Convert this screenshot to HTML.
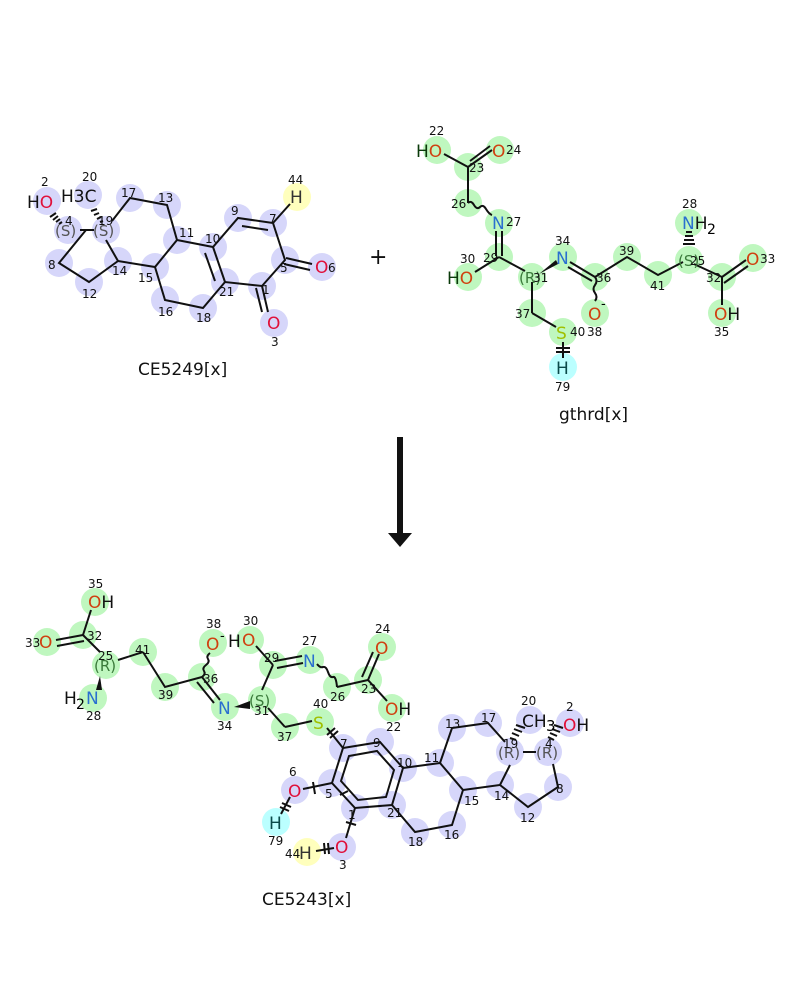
<!DOCTYPE html>
<html><head><meta charset="utf-8"><style>
body{margin:0;background:#fff}
svg{display:block}
text{font-family:"DejaVu Sans","Liberation Sans",sans-serif}
.n{font-size:12px;fill:#111}
.a{font-size:17px}
.b{fill:#d6d6fa}.g{fill:#bff7bf}
line,polyline,path{stroke:#111;stroke-width:2;fill:none}
</style></head><body>
<svg width="800" height="1000" viewBox="0 0 800 1000">
<!-- ===== Molecule 1 ===== -->
<g>
<circle class="b" cx="47" cy="201" r="14"/><circle class="b" cx="68" cy="230" r="14"/><circle class="b" cx="106" cy="230" r="14"/>
<circle class="b" cx="88" cy="195" r="14"/><circle class="b" cx="130" cy="198" r="14"/><circle class="b" cx="167" cy="205" r="14"/>
<circle class="b" cx="177" cy="240" r="14"/><circle class="b" cx="213" cy="247" r="14"/><circle class="b" cx="238" cy="218" r="14"/>
<circle class="b" cx="273" cy="223" r="14"/><circle fill="#ffffbd" cx="297" cy="197" r="14"/><circle class="b" cx="285" cy="260" r="14"/>
<circle class="b" cx="322" cy="267" r="14"/><circle class="b" cx="262" cy="286" r="14"/><circle class="b" cx="274" cy="323" r="14"/>
<circle class="b" cx="225" cy="282" r="14"/><circle class="b" cx="203" cy="308" r="14"/><circle class="b" cx="165" cy="300" r="14"/>
<circle class="b" cx="155" cy="267" r="14"/><circle class="b" cx="118" cy="261" r="14"/><circle class="b" cx="89" cy="282" r="14"/><circle class="b" cx="59" cy="263" r="14"/>
<polyline points="86,230 59,263 89,282 118,261 106,240"/>
<line x1="80" y1="230" x2="94" y2="230"/>
<polyline points="118,261 155,267 177,240 167,205 130,198 112,221"/>
<polyline points="155,267 165,300 203,308 225,282 262,286 285,260 273,223 238,218 213,247 177,240"/>
<line x1="213" y1="247" x2="225" y2="282"/><line x1="205" y1="253" x2="215" y2="281"/>
<line x1="242" y1="226" x2="268" y2="230"/>
<line x1="286" y1="258" x2="312" y2="264"/><line x1="284" y1="264" x2="310" y2="270"/>
<line x1="262" y1="286" x2="268" y2="312"/><line x1="256" y1="288" x2="262" y2="312"/>
<line x1="273" y1="223" x2="290" y2="204"/>
<path d="M62,222 l-3,2 M60,219 l-4,3 M58,216 l-5,4 M56,213 l-6,4" stroke-width="1.3"/>
<path d="M103,221 l-3,1 M101,217 l-4,2 M99,213 l-5,2 M97,209 l-6,2" stroke-width="1.3"/>
<text class="n" x="41" y="186">2</text><text class="a" x="27" y="208"><tspan fill="#111">H</tspan><tspan fill="#e0103a">O</tspan></text>
<text class="n" x="65" y="225">4</text><text x="55" y="236" font-size="15" fill="#555">(S)</text>
<text class="n" x="82" y="181">20</text><text class="a" x="61" y="202" fill="#111">H3C</text>
<text class="n" x="98" y="225">19</text><text x="93" y="236" font-size="15" fill="#555">(S)</text>
<text class="n" x="121" y="197">17</text><text class="n" x="158" y="202">13</text><text class="n" x="179" y="237">11</text>
<text class="n" x="205" y="243">10</text><text class="n" x="231" y="215">9</text><text class="n" x="269" y="223">7</text>
<text class="n" x="288" y="184">44</text><text class="a" x="290" y="203" fill="#333">H</text>
<text class="n" x="280" y="272">5</text><text class="a" x="315" y="273" fill="#e0103a">O</text><text class="n" x="328" y="272">6</text>
<text class="n" x="262" y="294">1</text><text class="a" x="267" y="329" fill="#e0103a">O</text><text class="n" x="271" y="346">3</text>
<text class="n" x="219" y="296">21</text><text class="n" x="196" y="322">18</text><text class="n" x="158" y="316">16</text>
<text class="n" x="138" y="282">15</text><text class="n" x="112" y="275">14</text><text class="n" x="82" y="298">12</text><text class="n" x="48" y="269">8</text>
<text x="138" y="375" font-size="17" fill="#111">CE5249[x]</text>
</g>
<text x="369" y="264" font-size="22" fill="#111">+</text>
<!-- ===== Molecule 2 ===== -->
<g>
<circle class="g" cx="437" cy="150" r="14"/><circle class="g" cx="468" cy="167" r="14"/><circle class="g" cx="500" cy="150" r="14"/>
<circle class="g" cx="468" cy="203" r="14"/><circle class="g" cx="499" cy="223" r="14"/><circle class="g" cx="499" cy="257" r="14"/>
<circle class="g" cx="468" cy="277" r="14"/><circle class="g" cx="532" cy="277" r="14"/><circle class="g" cx="532" cy="313" r="14"/>
<circle class="g" cx="563" cy="332" r="14"/><circle fill="#bff" cx="563" cy="367" r="14"/><circle class="g" cx="563" cy="257" r="14"/>
<circle class="g" cx="595" cy="277" r="14"/><circle class="g" cx="595" cy="313" r="14"/><circle class="g" cx="627" cy="257" r="14"/>
<circle class="g" cx="658" cy="275" r="14"/><circle class="g" cx="689" cy="260" r="14"/><circle class="g" cx="689" cy="223" r="14"/>
<circle class="g" cx="722" cy="277" r="14"/><circle class="g" cx="753" cy="258" r="14"/><circle class="g" cx="722" cy="313" r="14"/>
<line x1="444" y1="154" x2="468" y2="167"/><line x1="468" y1="167" x2="492" y2="150"/><line x1="470" y1="161" x2="490" y2="146"/>
<line x1="468" y1="167" x2="468" y2="203"/>
<path d="M468,203 q3,-3 6,2 t6,2 t6,2 t6,6" stroke-width="1.3"/>
<line x1="496" y1="231" x2="496" y2="256"/><line x1="502" y1="231" x2="502" y2="256"/>
<line x1="499" y1="257" x2="475" y2="272"/><line x1="499" y1="257" x2="525" y2="271"/>
<polygon points="539,274 556,260 558,264" fill="#111"/>
<line x1="532" y1="282" x2="532" y2="313"/><line x1="532" y1="313" x2="556" y2="327"/>
<line x1="570" y1="262" x2="595" y2="277"/><line x1="568" y1="267" x2="592" y2="281"/>
<path d="M595,277 q3,4 0,8 t0,8 t0,8" stroke-width="1.3"/>
<polyline points="595,277 627,257 658,275 683,262"/>
<line x1="694" y1="264" x2="722" y2="277"/><line x1="722" y1="277" x2="746" y2="260"/><line x1="724" y1="283" x2="748" y2="266"/>
<line x1="722" y1="277" x2="722" y2="305"/>
<path d="M683,244 h12 M684,240 h10 M685,236 h8 M686,232 h6" stroke-width="1.3"/>
<path d="M556,348 h14 M556,352 h14" stroke-width="1.5"/><line x1="563" y1="342" x2="563" y2="358"/>
<text class="n" x="429" y="135">22</text><text class="a" x="416" y="157"><tspan fill="#0a3a0a">H</tspan><tspan fill="#d04010">O</tspan></text>
<text class="n" x="469" y="172" fill="#1a5a1a">23</text><text class="a" x="492" y="157" fill="#d04010">O</text><text class="n" x="506" y="154">24</text>
<text class="n" x="451" y="208">26</text><text class="a" x="492" y="229" fill="#2a6fd0">N</text><text class="n" x="506" y="226">27</text>
<text class="n" x="483" y="262">29</text><text class="n" x="460" y="263">30</text><text class="a" x="447" y="284"><tspan fill="#0a3a0a">H</tspan><tspan fill="#d04010">O</tspan></text>
<text x="519" y="283" font-size="15" fill="#3a7a3a">(R)</text><text class="n" x="533" y="282">31</text>
<text class="n" x="515" y="318">37</text><text class="a" x="556" y="339" fill="#a0c000">S</text><text class="n" x="570" y="336">40</text>
<text class="a" x="556" y="374" fill="#0a4a4a">H</text><text class="n" x="555" y="391">79</text>
<text class="n" x="555" y="245">34</text><text class="a" x="556" y="264" fill="#2a6fd0">N</text>
<text class="n" x="596" y="282">36</text><text class="a" x="588" y="320" fill="#d04010">O</text><text x="601" y="308" font-size="13">-</text><text class="n" x="587" y="336">38</text>
<text class="n" x="619" y="255">39</text><text class="n" x="650" y="290">41</text>
<text x="678" y="266" font-size="15" fill="#3a7a3a">(S)</text><text class="n" x="690" y="265">25</text>
<text class="n" x="682" y="208">28</text><text class="a" x="682" y="229"><tspan fill="#2a6fd0">N</tspan><tspan fill="#111">H</tspan></text><text x="707" y="234" font-size="14">2</text>
<text class="n" x="706" y="282">32</text><text class="a" x="746" y="265" fill="#d04010">O</text><text class="n" x="760" y="263">33</text>
<text class="a" x="714" y="320"><tspan fill="#d04010">O</tspan><tspan fill="#111">H</tspan></text><text class="n" x="714" y="336">35</text>
<text x="559" y="420" font-size="17" fill="#111">gthrd[x]</text>
</g>
<!-- arrow -->
<rect x="397" y="437" width="6" height="97" fill="#111"/>
<polygon points="388,533 412,533 400,547" fill="#111"/>
<!-- ===== Molecule 3 ===== -->
<g>
<circle class="g" cx="95" cy="602" r="14"/><circle class="g" cx="83" cy="635" r="14"/><circle class="g" cx="47" cy="642" r="14"/>
<circle class="g" cx="106" cy="665" r="14"/><circle class="g" cx="93" cy="698" r="14"/><circle class="g" cx="143" cy="652" r="14"/>
<circle class="g" cx="165" cy="687" r="14"/><circle class="g" cx="202" cy="677" r="14"/><circle class="g" cx="213" cy="643" r="14"/>
<circle class="g" cx="225" cy="707" r="14"/><circle class="g" cx="262" cy="700" r="14"/><circle class="g" cx="273" cy="665" r="14"/>
<circle class="g" cx="250" cy="640" r="14"/><circle class="g" cx="310" cy="660" r="14"/><circle class="g" cx="337" cy="687" r="14"/>
<circle class="g" cx="368" cy="680" r="14"/><circle class="g" cx="382" cy="647" r="14"/><circle class="g" cx="392" cy="708" r="14"/>
<circle class="g" cx="320" cy="722" r="14"/><circle class="g" cx="285" cy="727" r="14"/>
<circle class="b" cx="343" cy="748" r="14"/><circle class="b" cx="332" cy="783" r="14"/><circle class="b" cx="295" cy="790" r="14"/>
<circle fill="#bff" cx="276" cy="822" r="14"/><circle class="b" cx="355" cy="808" r="14"/><circle class="b" cx="342" cy="847" r="14"/>
<circle fill="#ffffbd" cx="307" cy="852" r="14"/>
<circle class="b" cx="380" cy="742" r="14"/><circle class="b" cx="403" cy="768" r="14"/><circle class="b" cx="392" cy="805" r="14"/>
<circle class="b" cx="415" cy="832" r="14"/><circle class="b" cx="452" cy="825" r="14"/><circle class="b" cx="463" cy="790" r="14"/>
<circle class="b" cx="440" cy="763" r="14"/><circle class="b" cx="452" cy="728" r="14"/><circle class="b" cx="488" cy="723" r="14"/>
<circle class="b" cx="510" cy="752" r="14"/><circle class="b" cx="530" cy="720" r="14"/><circle class="b" cx="548" cy="752" r="14"/>
<circle class="b" cx="570" cy="723" r="14"/><circle class="b" cx="558" cy="787" r="14"/><circle class="b" cx="528" cy="807" r="14"/><circle class="b" cx="500" cy="785" r="14"/>
<line x1="91" y1="610" x2="83" y2="635"/><line x1="83" y1="635" x2="56" y2="640"/><line x1="84" y1="641" x2="57" y2="646"/>
<line x1="83" y1="635" x2="100" y2="652"/><line x1="118" y1="660" x2="143" y2="652"/>
<polygon points="100,676 96,690 102,690" fill="#111"/>
<polyline points="143,652 165,687 202,677"/>
<line x1="202" y1="677" x2="220" y2="700"/><line x1="197" y1="682" x2="214" y2="703"/>
<path d="M202,677 q4,-3 2,-6 t2,-6 t2,-6 t2,-6" stroke-width="1.3"/>
<polygon points="234,707 250,701 250,709" fill="#111"/>
<line x1="262" y1="690" x2="273" y2="665"/><line x1="273" y1="665" x2="256" y2="646"/>
<line x1="275" y1="661" x2="302" y2="656"/><line x1="277" y1="668" x2="303" y2="663"/>
<path d="M317,664 q3,4 6,3 t5,5 t5,5 t4,10" stroke-width="1.3"/>
<line x1="337" y1="687" x2="368" y2="680"/><line x1="368" y1="680" x2="379" y2="654"/><line x1="362" y1="677" x2="373" y2="652"/>
<line x1="368" y1="680" x2="387" y2="701"/>
<line x1="268" y1="708" x2="285" y2="727"/><line x1="285" y1="727" x2="312" y2="721"/>
<line x1="327" y1="728" x2="343" y2="748"/><path d="M327,735 l8,-7 M330,738 l8,-7" stroke-width="1.5"/>
<polygon points="343,748 380,742 403,768 392,805 355,808 332,783" style="fill:none;stroke:#111;stroke-width:2"/>
<polygon points="349,756 377,751 394,770 386,797 358,800 341,781" style="fill:none;stroke:#111;stroke-width:2"/>
<line x1="332" y1="783" x2="303" y2="789"/><path d="M313,782 l2,12" stroke-width="1.5"/>
<line x1="290" y1="797" x2="281" y2="814"/><path d="M282,803 l9,4 M280,807 l9,4" stroke-width="1.5"/>
<line x1="355" y1="808" x2="346" y2="838"/><path d="M346,822 l10,3" stroke-width="1.5"/>
<path d="M340,795 l8,-4" stroke-width="1.5"/>
<line x1="334" y1="848" x2="316" y2="851"/><path d="M324,843 l1,11 M328,843 l1,11" stroke-width="1.5"/>
<polyline points="403,768 440,763 463,790 452,825 415,832 392,805"/>
<polyline points="440,763 452,728 488,723 505,742"/>
<polyline points="463,790 500,785 510,765"/>
<polyline points="500,785 528,807 558,787 553,764"/>
<line x1="523" y1="752" x2="536" y2="752"/>
<path d="M516,740 l-6,-2 M519,736 l-7,-3 M522,732 l-8,-3 M525,728 l-9,-3" stroke-width="1.3"/>
<path d="M554,740 l-6,-3 M557,736 l-7,-3 M560,732 l-8,-3 M563,728 l-9,-3" stroke-width="1.3"/>
<text class="n" x="88" y="588">35</text><text class="a" x="88" y="608"><tspan fill="#d04010">O</tspan><tspan fill="#111">H</tspan></text>
<text class="n" x="87" y="640" fill="#1a5a1a">32</text><text class="n" x="25" y="647">33</text><text class="a" x="39" y="648" fill="#d04010">O</text>
<text class="n" x="98" y="660" fill="#1a5a1a">25</text><text x="94" y="671" font-size="15" fill="#3a7a3a">(R)</text>
<text class="a" x="64" y="704" fill="#111">H</text><text x="76" y="709" font-size="14">2</text><text class="a" x="86" y="704" fill="#2a6fd0">N</text><text class="n" x="86" y="720">28</text>
<text class="n" x="135" y="654" fill="#1a5a1a">41</text><text class="n" x="158" y="699" fill="#1a5a1a">39</text><text class="n" x="203" y="683" fill="#1a5a1a">36</text>
<text class="n" x="206" y="628">38</text><text class="a" x="206" y="650" fill="#d04010">O</text><text x="220" y="640" font-size="13">-</text>
<text class="a" x="228" y="647" fill="#111">H</text><text class="a" x="242" y="646" fill="#d04010">O</text><text class="n" x="243" y="625">30</text>
<text class="n" x="264" y="662" fill="#1a5a1a">29</text><text class="n" x="302" y="645">27</text><text class="a" x="303" y="667" fill="#2a6fd0">N</text>
<text class="n" x="330" y="701">26</text><text class="n" x="361" y="693" fill="#1a5a1a">23</text>
<text class="n" x="375" y="633">24</text><text class="a" x="375" y="654" fill="#d04010">O</text>
<text class="a" x="385" y="715"><tspan fill="#d04010">O</tspan><tspan fill="#111">H</tspan></text><text class="n" x="386" y="731">22</text>
<text class="a" x="218" y="714" fill="#2a6fd0">N</text><text class="n" x="217" y="730">34</text>
<text x="249" y="706" font-size="15" fill="#3a7a3a">(S)</text><text class="n" x="254" y="715" fill="#1a5a1a">31</text>
<text class="n" x="277" y="741">37</text><text class="n" x="313" y="708">40</text><text class="a" x="313" y="729" fill="#a0c000">S</text>
<text class="n" x="340" y="748">7</text><text class="n" x="373" y="747">9</text>
<text class="n" x="397" y="767">10</text><text class="n" x="325" y="798">5</text><text class="n" x="348" y="819">1</text><text class="n" x="387" y="817">21</text>
<text class="n" x="289" y="776">6</text><text class="a" x="288" y="797" fill="#e0103a">O</text>
<text class="a" x="269" y="829" fill="#0a4a4a">H</text><text class="n" x="268" y="845">79</text>
<text class="a" x="335" y="853" fill="#e0103a">O</text><text class="n" x="339" y="869">3</text>
<text class="n" x="285" y="858">44</text><text class="a" x="299" y="859" fill="#333">H</text>
<text class="n" x="408" y="846">18</text><text class="n" x="444" y="839">16</text><text class="n" x="464" y="805">15</text>
<text class="n" x="424" y="762">11</text><text class="n" x="445" y="728">13</text><text class="n" x="481" y="722">17</text>
<text x="498" y="758" font-size="15" fill="#555">(R)</text><text class="n" x="503" y="748">19</text>
<text class="n" x="521" y="705">20</text><text class="a" x="522" y="727" fill="#111">CH</text><text x="546" y="731" font-size="15">3</text>
<text x="536" y="758" font-size="15" fill="#555">(R)</text><text class="n" x="545" y="748">4</text>
<text class="n" x="566" y="711">2</text><text class="a" x="563" y="731"><tspan fill="#e0103a">O</tspan><tspan fill="#111">H</tspan></text>
<text class="n" x="556" y="793">8</text><text class="n" x="520" y="822">12</text><text class="n" x="494" y="800">14</text>
<text x="262" y="905" font-size="17" fill="#111">CE5243[x]</text>
</g>
</svg>
</body></html>
